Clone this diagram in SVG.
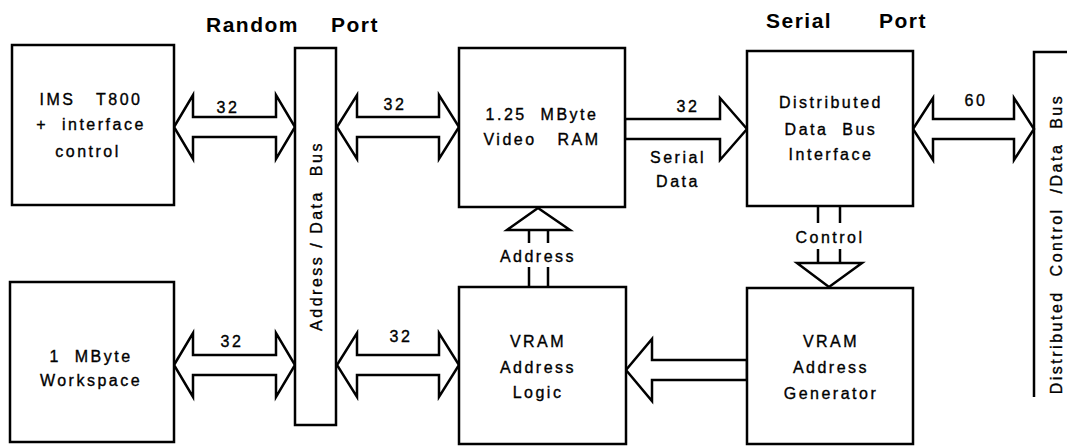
<svg xmlns="http://www.w3.org/2000/svg" width="1067" height="446" viewBox="0 0 1067 446">
<style>
.box{fill:#fff;stroke:#000;stroke-width:2.5}
.arr{fill:#fff;stroke:#000;stroke-width:2.5;stroke-linejoin:miter}
.ln{stroke:#000;stroke-width:2.5;fill:none}
.t{font-family:"Liberation Sans",Arial,Helvetica,sans-serif;font-size:16px;letter-spacing:2.5px;text-anchor:middle;fill:#000;stroke:#000;stroke-width:0.35}
.title{font-family:"Liberation Sans",Arial,Helvetica,sans-serif;font-size:21px;font-weight:bold;letter-spacing:1.5px;fill:#000}
</style>
<rect width="1067" height="446" fill="#fff"/>
<g id="titles">
<text class="title" x="206" y="32">Random</text>
<text class="title" x="331" y="32">Port</text>
<text class="title" x="766" y="28">Serial</text>
<text class="title" x="879" y="28">Port</text>
</g>
<g id="connectors">
<polygon class="arr" points="174,127 193,95 193,117 276,117 276,95 295,127 276,159 276,137 193,137 193,159"/>
<text class="t" x="228" y="113">32</text>
<polygon class="arr" points="337,127 357,95 357,117 439,117 439,95 459,127 439,159 439,137 357,137 357,159"/>
<text class="t" x="395" y="110">32</text>
<polygon class="arr" points="625,119 720,119 720,98 747,129 720,160 720,139 625,139"/>
<text class="t" x="688" y="112">32</text>
<text class="t" x="678" y="163">Serial</text>
<text class="t" x="678" y="187">Data</text>
<polygon class="arr" points="913,129 933,98 933,119 1014,119 1014,98 1034,129 1014,160 1014,139 933,139 933,160"/>
<text class="t" x="976" y="106">60</text>
<polygon class="arr" points="174,365 193,333 193,355 276,355 276,333 295,365 276,397 276,375 193,375 193,397"/>
<text class="t" x="232" y="347">32</text>
<polygon class="arr" points="337,365 357,333 357,355 439,355 439,333 459,365 439,397 439,375 357,375 357,397"/>
<text class="t" x="401" y="342">32</text>
<polygon class="arr" points="747,360 652,360 652,339 626,370 652,401 652,380 747,380"/>
<polygon class="arr" points="529,230 507,230 538,208 570,230 548,230"/>
<path class="ln" d="M529,230V243M548,230V243M529,267V287M548,267V287"/>
<text class="t" x="538" y="262">Address</text>
<path class="ln" d="M818,206V223M840,206V223M818,249V263M840,249V263"/>
<polygon class="arr" points="818,263 797,263 829,287 862,263 840,263"/>
<text class="t" x="830" y="243">Control</text>
</g>
<g id="ims">
<rect class="box" x="12" y="45" width="162" height="160"/>
<text class="t" x="91" y="105" xml:space="preserve">IMS   T800</text>
<text class="t" x="91" y="130" xml:space="preserve">+  interface</text>
<text class="t" x="88" y="157">control</text>
</g>
<g id="workspace">
<rect class="box" x="10" y="282" width="164" height="160"/>
<text class="t" x="91" y="362" xml:space="preserve">1  MByte</text>
<text class="t" x="91" y="386">Workspace</text>
</g>
<g id="bus">
<rect class="box" x="295" y="48" width="41" height="377"/>
<text class="t" transform="translate(322,236) rotate(-90)" xml:space="preserve">Address / Data  Bus</text>
</g>
<g id="vram">
<rect class="box" x="459" y="48" width="166" height="159"/>
<text class="t" x="542" y="120" xml:space="preserve">1.25  MByte</text>
<text class="t" x="542" y="145" xml:space="preserve">Video   RAM</text>
</g>
<g id="ddbi">
<rect class="box" x="747" y="51" width="166" height="155"/>
<text class="t" x="831" y="108">Distributed</text>
<text class="t" x="831" y="135" xml:space="preserve">Data  Bus</text>
<text class="t" x="831" y="160">Interface</text>
</g>
<g id="addrlogic">
<rect class="box" x="459" y="287" width="167" height="157"/>
<text class="t" x="538" y="347">VRAM</text>
<text class="t" x="538" y="373">Address</text>
<text class="t" x="538" y="398">Logic</text>
</g>
<g id="addrgen">
<rect class="box" x="747" y="288" width="166" height="156"/>
<text class="t" x="831" y="347">VRAM</text>
<text class="t" x="831" y="373">Address</text>
<text class="t" x="831" y="399">Generator</text>
</g>
<g id="dbus">
<path class="ln" d="M1034,397V52H1067"/>
<text class="t" transform="translate(1062,244) rotate(-90)" xml:space="preserve">Distributed  Control  /Data  Bus</text>
</g>
</svg>
